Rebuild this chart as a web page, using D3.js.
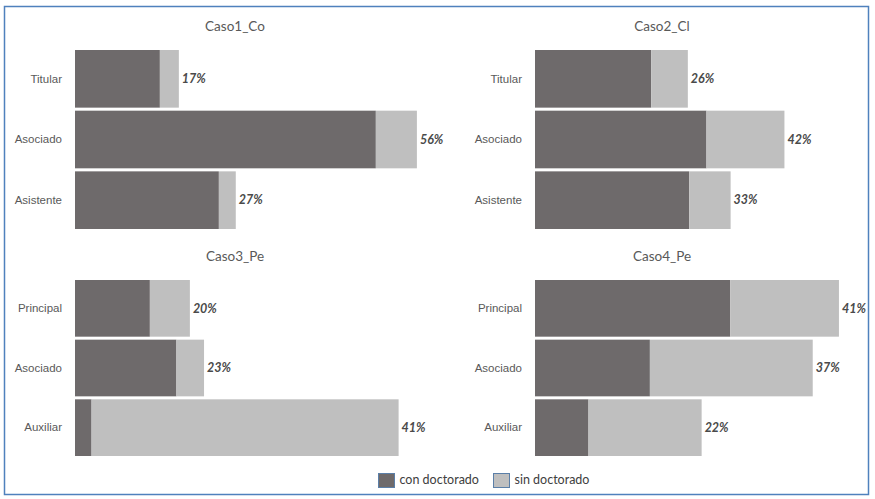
<!DOCTYPE html>
<html>
<head>
<meta charset="utf-8">
<script src="https://cdn.jsdelivr.net/npm/d3@7"></script>
<style>
  body { margin: 0; background: #ffffff; }
  svg { font-family: Lato, "Open Sans", sans-serif; }
  .title { font-size: 13.5px; fill: #595959; }
  .cat .tick text { font-size: 11.5px; fill: #595959; }
  .valueLabel { font-size: 12.5px; font-style: italic; font-weight: bold; fill: #4a4a4a; }
  .legendText { font-size: 12.5px; fill: #404040; }
</style>
</head>
<body>
<script>
// data (bar lengths in a common unit, labels as printed)
const cases = ["Caso1_Co", "Caso2_Cl", "Caso3_Pe", "Caso4_Pe"];
const categories = [
    ["Titular", "Asociado", "Asistente"],
    ["Titular", "Asociado", "Asistente"],
    ["Principal", "Asociado", "Auxiliar"],
    ["Principal", "Asociado", "Auxiliar"]
];
const conDoctorado = [
    [24.6, 87.2, 41.7],
    [33.7, 49.7, 44.7],
    [21.7, 29.4, 4.8],
    [56.6, 33.3, 15.5]
];
const sinDoctorado = [
    [5.5, 11.9, 4.9],
    [10.6, 22.6, 12.0],
    [11.6, 8.0, 89.0],
    [31.5, 47.2, 32.8]
];
const shareLabels = [
    ["17%", "56%", "27%"],
    ["26%", "42%", "33%"],
    ["20%", "23%", "41%"],
    ["41%", "37%", "22%"]
];
const seriesNames = ["con doctorado", "sin doctorado"];
const colours = ["#6e6a6b", "#bfbfbf"];

var width = 875;
var height = 499;

var svg = d3.select("body").append("svg")
    .attr("width", width)
    .attr("height", height);

// outer frame
svg.append('rect')
    .attr('x', 4.5)
    .attr('y', 6.5)
    .attr('width', 864)
    .attr('height', 488)
    .style('fill', 'none')
    .style('stroke', '#4f81bd')
    .style('stroke-width', 1.5);

var panelLeft = [75, 535];
var panelTop = [50, 280];
var panelHeight = [179, 176];
var titleX = [235, 662];
var titleY = [28, 258];

var x = d3.scaleLinear()
    .domain([0, 100])
    .range([0, 345]);

cases.forEach((name, i) => {
    var col = i % 2, row = Math.floor(i / 2);
    var x0 = panelLeft[col];
    var y0 = panelTop[row];

    var g = svg.append('g')
        .attr('class', 'panel')
        .attr('transform', `translate(${x0}, 0)`);

    svg.append('text')
        .attr('class', 'title')
        .attr('x', titleX[col])
        .attr('y', titleY[row])
        .attr('dominant-baseline', 'middle')
        .style('text-anchor', 'middle')
        .text(name);

    var y = d3.scaleBand()
        .domain(categories[i])
        .range([y0, y0 + panelHeight[row]])
        .paddingInner(0.05);

    var rows = categories[i].map((c, j) => ({
        cat: c,
        con: conDoctorado[i][j],
        sin: sinDoctorado[i][j],
        label: shareLabels[i][j]
    }));

    g.selectAll('rect.con') // dark part
        .data(rows)
        .enter()
        .append('rect')
        .attr('class', 'con')
        .attr('x', x(0))
        .attr('y', e => y(e.cat))
        .attr('width', e => x(e.con))
        .attr('height', y.bandwidth())
        .style('fill', colours[0]);

    g.selectAll('rect.sin') // light part
        .data(rows)
        .enter()
        .append('rect')
        .attr('class', 'sin')
        .attr('x', e => x(e.con))
        .attr('y', e => y(e.cat))
        .attr('width', e => x(e.sin))
        .attr('height', y.bandwidth())
        .style('fill', colours[1]);

    g.selectAll('text.valueLabel')
        .data(rows)
        .enter()
        .append('text')
        .attr('class', 'valueLabel')
        .attr('x', e => x(e.con + e.sin) + 3)
        .attr('y', e => y(e.cat) + y.bandwidth() / 2 + 1)
        .attr('dominant-baseline', 'middle')
        .text(e => e.label);

    g.append('g')
        .attr('class', 'cat')
        .call(d3.axisLeft(y).tickSize(0).tickPadding(13))
        .call(a => a.select('.domain').remove());
});

// legend
var legend = svg.append('g').attr('class', 'legend');
var legendX = [378.5, 493.5];
seriesNames.forEach((s, i) => {
    legend.append('rect')
        .attr('x', legendX[i])
        .attr('y', 473.5)
        .attr('width', 16)
        .attr('height', 14)
        .style('fill', colours[i])
        .style('stroke', '#5b7fa8')
        .style('stroke-width', 1);
    legend.append('text')
        .attr('class', 'legendText')
        .attr('x', legendX[i] + 21)
        .attr('y', 481)
        .attr('dominant-baseline', 'middle')
        .text(s);
});
</script>
</body>
</html>
